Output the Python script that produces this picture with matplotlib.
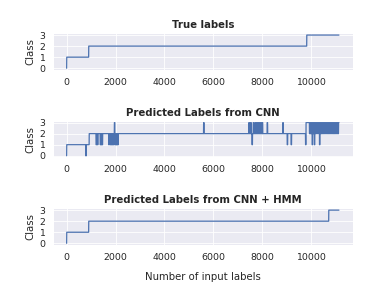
import matplotlib
matplotlib.use("Agg")
import matplotlib.pyplot as plt
import numpy as np
import seaborn as sns

# total number of input labels
n_samples = 11140

# run-length description: index where a new class value starts, and that value
true_starts = [0, 1, 900, 9820]
true_values = [0, 1, 2, 3]

hmm_starts = [0, 1, 900, 10720]
hmm_values = [0, 1, 2, 3]

cnn_starts = [0, 1, 780, 800, 920,
              1200, 1230, 1260, 1280,
              1370, 1390, 1410, 1430, 1450, 1470,
              1720, 1740, 1780, 1800, 1820, 1840, 1860, 1880, 1900, 1930, 1950,
              1970, 1990, 2010, 2030, 2050, 2070, 2090, 2110, 2130,
              5600, 5620,
              7450, 7470, 7490, 7510, 7530, 7550, 7580, 7600, 7630, 7650, 7700,
              7720, 7760, 7780, 7810, 7830, 7860, 7880, 7910, 7930, 7960, 7980,
              8000, 8020,
              8200, 8220, 8840, 8860,
              9020, 9040, 9180, 9200,
              9770, 9790, 9930, 9960, 9980, 10010, 10040, 10060, 10090, 10110,
              10130, 10150, 10180, 10200, 10230, 10250, 10280, 10300, 10340,
              10360, 10390, 10420, 10440, 10470, 10500, 10520, 10550, 10570,
              10600, 10620, 10650, 10670, 10700, 10720, 10750, 10770, 10800,
              10820, 10850, 10870, 10900, 10920, 10950, 10970, 11000, 11020,
              11050, 11070, 11100, 11120]
cnn_values = [0, 1, 0, 1, 2,
              1, 2, 1, 2,
              1, 2, 1, 2, 1, 2,
              1, 2, 1, 2, 1, 2, 1, 2, 1, 2, 3,
              1, 2, 1, 2, 1, 2, 1, 2, 2,
              3, 2,
              3, 2, 3, 2, 3, 2, 1, 2, 3, 2, 3,
              2, 3, 2, 3, 2, 3, 2, 3, 2, 3, 2,
              3, 2,
              3, 2, 3, 2,
              1, 2, 1, 2,
              1, 3, 2, 3, 2, 3, 1, 3, 2, 3,
              1, 3, 2, 3, 2, 3, 2, 3, 1,
              3, 2, 3, 2, 3, 2, 3, 2, 3,
              2, 3, 2, 3, 2, 3, 2, 3, 2,
              3, 2, 3, 2, 3, 2, 3, 2, 3,
              2, 3, 2, 3]

titles = ["True labels", "Predicted Labels from CNN", "Predicted Labels from CNN + HMM"]


def expand(starts, values, n):
    lengths = np.diff(np.append(starts, n))
    return np.repeat(values, lengths)


series = [expand(true_starts, true_values, n_samples),
          expand(cnn_starts, cnn_values, n_samples),
          expand(hmm_starts, hmm_values, n_samples)]

sns.set()
fig = plt.figure(figsize=(390 / 61, 293 / 61), dpi=61)
for i, (y, title) in enumerate(zip(series, titles)):
    ax = plt.subplot(3, 1, i + 1)
    ax.plot(y)
    ax.set_title(title, fontweight="bold")
    ax.set_ylabel("Class")
    ax.set_yticks([0, 1, 2, 3])
    ax.set_xticks([0, 2000, 4000, 6000, 8000, 10000])
ax.set_xlabel("Number of input labels", labelpad=12)

plt.subplots_adjust(left=0.136, right=0.904, top=0.886, bottom=0.164, hspace=1.4)
plt.savefig("out.png", dpi=61)
